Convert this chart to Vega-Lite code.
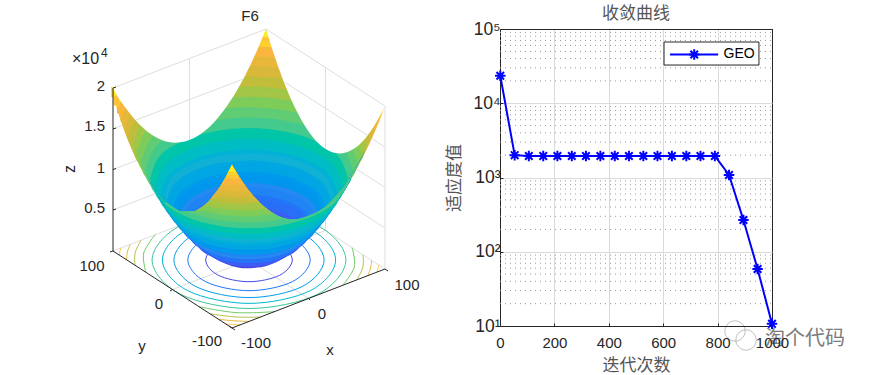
{
"$schema":"https://vega.github.io/schema/vega-lite/v6.json",
"padding":0,
"background":"white",
"config":{"view":{"stroke":null},"font":"Liberation Sans"},
"datasets":{
"series":[{"s":"GEO","it":1,"fit":23500},{"s":"GEO","it":54,"fit":2000},{"s":"GEO","it":106,"fit":1950},{"s":"GEO","it":159,"fit":1950},{"s":"GEO","it":211,"fit":1950},{"s":"GEO","it":264,"fit":1950},{"s":"GEO","it":316,"fit":1950},{"s":"GEO","it":369,"fit":1950},{"s":"GEO","it":422,"fit":1950},{"s":"GEO","it":474,"fit":1950},{"s":"GEO","it":527,"fit":1950},{"s":"GEO","it":579,"fit":1950},{"s":"GEO","it":632,"fit":1950},{"s":"GEO","it":685,"fit":1950},{"s":"GEO","it":737,"fit":1950},{"s":"GEO","it":790,"fit":1950},{"s":"GEO","it":842,"fit":1080},{"s":"GEO","it":895,"fit":268},{"s":"GEO","it":947,"fit":58.6},{"s":"GEO","it":1000,"fit":10.7}],
"grid":[
{"u":113,"v":209,"u2":266,"v2":150},{"u":113,"v":168.5,"u2":266,"v2":109.5},{"u":113,"v":128,"u2":266,"v2":69},
{"u":266,"v":150,"u2":385,"v2":227},{"u":266,"v":109.5,"u2":385,"v2":186.5},{"u":266,"v":69,"u2":385,"v2":146},
{"u":189.5,"v":220.5,"u2":189.5,"v2":57.5},{"u":325.5,"v":229.5,"u2":325.5,"v2":66.5},{"u":385,"v":268,"u2":385,"v2":105},
{"u":113,"v":250,"u2":266,"v2":191},{"u":266,"v":191,"u2":385,"v2":268},{"u":308.5,"v":297.5,"u2":189.5,"v2":220.5},{"u":172.5,"v":288.5,"u2":325.5,"v2":229.5}],
"gridTop":[
{"u":113,"v":87,"u2":266,"v2":28},{"u":266,"v":28,"u2":385,"v2":105},{"u":136,"v":119,"u2":243.5,"v2":78},{"u":283,"v":80,"u2":367,"v2":134},
{"u":189.5,"v":57.5,"u2":189.5,"v2":139},{"u":325.5,"v":66.5,"u2":325.5,"v2":148}],
"axes3d":[
{"u":113,"v":87,"u2":113,"v2":250},{"u":113,"v":250,"u2":232,"v2":327},{"u":232,"v":327,"u2":385,"v2":268},
{"u":113,"v":209,"u2":116,"v2":208},{"u":113,"v":168.5,"u2":116,"v2":167.5},{"u":113,"v":128,"u2":116,"v2":127},{"u":113,"v":87,"u2":116,"v2":86},
{"u":172.5,"v":288.5,"u2":170,"v2":290},{"u":113,"v":250,"u2":110,"v2":251},{"u":232,"v":327,"u2":229,"v2":325},{"u":232,"v":327,"u2":235,"v2":329},
{"u":308.5,"v":297.5,"u2":310,"v2":299},{"u":385,"v":268,"u2":388,"v2":270}],
"ellipses":[
{"z":2000,"i":0,"u":292.3,"v":259},{"z":2000,"i":1,"u":279.6,"v":274.3},{"z":2000,"i":2,"u":249,"v":280.7},{"z":2000,"i":3,"u":218.4,"v":274.3},{"z":2000,"i":4,"u":205.7,"v":259},{"z":2000,"i":5,"u":218.4,"v":243.7},{"z":2000,"i":6,"u":249,"v":237.3},{"z":2000,"i":7,"u":279.6,"v":243.7},
{"z":4000,"i":0,"u":310.2,"v":259},{"z":4000,"i":1,"u":292.3,"v":280.7},{"z":4000,"i":2,"u":249,"v":289.7},{"z":4000,"i":3,"u":205.7,"v":280.7},{"z":4000,"i":4,"u":187.8,"v":259},{"z":4000,"i":5,"u":205.7,"v":237.3},{"z":4000,"i":6,"u":249,"v":228.3},{"z":4000,"i":7,"u":292.3,"v":237.3},
{"z":6000,"i":0,"u":324.1,"v":259},{"z":6000,"i":1,"u":302.1,"v":285.6},{"z":6000,"i":2,"u":249,"v":296.6},{"z":6000,"i":3,"u":195.9,"v":285.6},{"z":6000,"i":4,"u":173.9,"v":259},{"z":6000,"i":5,"u":195.9,"v":232.4},{"z":6000,"i":6,"u":249,"v":221.4},{"z":6000,"i":7,"u":302.1,"v":232.4},
{"z":8000,"i":0,"u":335.6,"v":259},{"z":8000,"i":1,"u":310.2,"v":289.7},{"z":8000,"i":2,"u":249,"v":302.4},{"z":8000,"i":3,"u":187.8,"v":289.7},{"z":8000,"i":4,"u":162.4,"v":259},{"z":8000,"i":5,"u":187.8,"v":228.3},{"z":8000,"i":6,"u":249,"v":215.6},{"z":8000,"i":7,"u":310.2,"v":228.3},
{"z":10000,"i":0,"u":345.9,"v":259},{"z":10000,"i":1,"u":317.5,"v":293.3},{"z":10000,"i":2,"u":249,"v":307.5},{"z":10000,"i":3,"u":180.5,"v":293.3},{"z":10000,"i":4,"u":152.1,"v":259},{"z":10000,"i":5,"u":180.5,"v":224.7},{"z":10000,"i":6,"u":249,"v":210.5},{"z":10000,"i":7,"u":317.5,"v":224.7}],
"arcs":[
{"z":12000,"g":"f12","i":0,"u":199.1,"v":305.7},{"z":12000,"g":"f12","i":1,"u":235.9,"v":311.6},{"z":12000,"g":"f12","i":2,"u":274.3,"v":310.7},
{"z":14000,"g":"f14","i":0,"u":210.1,"v":312.8},{"z":14000,"g":"f14","i":1,"u":234.8,"v":315.9},{"z":14000,"g":"f14","i":2,"u":260.2,"v":316.1},
{"z":16000,"g":"f16","i":0,"u":218.6,"v":318.3},{"z":16000,"g":"f16","i":1,"u":233.8,"v":319.8},{"z":16000,"g":"f16","i":2,"u":249.2,"v":320.4},
{"z":18000,"g":"f18","i":0,"u":225.7,"v":322.9},{"z":18000,"g":"f18","i":1,"u":232.9,"v":323.5},{"z":18000,"g":"f18","i":2,"u":240.1,"v":323.9},
{"z":12000,"g":"l12","i":0,"u":145.9,"v":271.3},{"z":12000,"g":"l12","i":1,"u":143.7,"v":252},{"z":12000,"g":"l12","i":2,"u":155.3,"v":233.7},
{"z":14000,"g":"l14","i":0,"u":134.9,"v":264.2},{"z":14000,"g":"l14","i":1,"u":135.2,"v":251.5},{"z":14000,"g":"l14","i":2,"u":141.2,"v":239.1},
{"z":16000,"g":"l16","i":0,"u":126.4,"v":258.7},{"z":16000,"g":"l16","i":1,"u":127.4,"v":251},{"z":16000,"g":"l16","i":2,"u":130.2,"v":243.4},
{"z":18000,"g":"l18","i":0,"u":119.3,"v":254.1},{"z":18000,"g":"l18","i":1,"u":119.9,"v":250.5},{"z":18000,"g":"l18","i":2,"u":121.1,"v":246.9},
{"z":12000,"g":"r12","i":0,"u":352.1,"v":246.7},{"z":12000,"g":"r12","i":1,"u":354.3,"v":266},{"z":12000,"g":"r12","i":2,"u":342.7,"v":284.3},
{"z":14000,"g":"r14","i":0,"u":363.1,"v":253.8},{"z":14000,"g":"r14","i":1,"u":362.8,"v":266.5},{"z":14000,"g":"r14","i":2,"u":356.8,"v":278.9},
{"z":16000,"g":"r16","i":0,"u":371.6,"v":259.3},{"z":16000,"g":"r16","i":1,"u":370.6,"v":267},{"z":16000,"g":"r16","i":2,"u":367.8,"v":274.6},
{"z":18000,"g":"r18","i":0,"u":378.7,"v":263.9},{"z":18000,"g":"r18","i":1,"u":378.1,"v":267.5},{"z":18000,"g":"r18","i":2,"u":376.9,"v":271.1}],
"inner":[
{"z":19500,"u":113,"v":96,"v2":86},{"z":19500,"u":121.6,"v":70.8,"v2":114.5},{"z":19500,"u":153.1,"v":47,"v2":145},{"z":19500,"u":201,"v":31.7,"v2":160.3},{"z":19500,"u":249,"v":27.4,"v2":164.6},{"z":19500,"u":297,"v":31.7,"v2":160.3},{"z":19500,"u":344.9,"v":47,"v2":145},{"z":19500,"u":376.4,"v":70.8,"v2":121.2},{"z":19500,"u":385,"v":96,"v2":96},
{"z":18500,"u":115.5,"v":104.2,"v2":95.3},{"z":18500,"u":124.8,"v":79.6,"v2":123.7},{"z":18500,"u":155.5,"v":56.5,"v2":151.9},{"z":18500,"u":202.3,"v":41.6,"v2":166.8},{"z":18500,"u":249,"v":37.4,"v2":171},{"z":18500,"u":295.7,"v":41.6,"v2":166.8},{"z":18500,"u":342.5,"v":56.5,"v2":151.9},{"z":18500,"u":373.2,"v":79.6,"v2":128.8},{"z":18500,"u":382.5,"v":104.2,"v2":104.2},
{"z":17500,"u":119,"v":112.3,"v2":106.5},{"z":17500,"u":128.1,"v":88.3,"v2":132.9},{"z":17500,"u":158,"v":65.8,"v2":158.8},{"z":17500,"u":203.5,"v":51.3,"v2":173.3},{"z":17500,"u":249,"v":47.2,"v2":177.4},{"z":17500,"u":294.5,"v":51.3,"v2":173.3},{"z":17500,"u":340,"v":65.8,"v2":158.8},{"z":17500,"u":369.9,"v":88.3,"v2":136.3},{"z":17500,"u":379,"v":112.3,"v2":112.3},
{"z":16500,"u":122.6,"v":120.5,"v2":117.3},{"z":16500,"u":131.4,"v":97.2,"v2":141.5},{"z":16500,"u":160.5,"v":75.4,"v2":165.6},{"z":16500,"u":204.8,"v":61.3,"v2":179.7},{"z":16500,"u":249,"v":57.3,"v2":183.7},{"z":16500,"u":293.2,"v":61.3,"v2":179.7},{"z":16500,"u":337.5,"v":75.4,"v2":165.6},{"z":16500,"u":366.6,"v":97.2,"v2":143.8},{"z":16500,"u":375.4,"v":120.5,"v2":120.5},
{"z":15500,"u":126.4,"v":128.6,"v2":128.2},{"z":15500,"u":135,"v":106,"v2":150.4},{"z":15500,"u":163.2,"v":84.8,"v2":172.4},{"z":15500,"u":206.1,"v":71.1,"v2":186.1},{"z":15500,"u":249,"v":67.2,"v2":190},{"z":15500,"u":291.9,"v":71.1,"v2":186.1},{"z":15500,"u":334.8,"v":84.8,"v2":172.4},{"z":15500,"u":363,"v":106,"v2":151.2},{"z":15500,"u":371.6,"v":128.6,"v2":128.6},
{"z":14500,"u":130.3,"v":136.8,"v2":136.8},{"z":14500,"u":138.6,"v":114.9,"v2":158.7},{"z":14500,"u":165.9,"v":94.4,"v2":179.2},{"z":14500,"u":207.5,"v":81.1,"v2":192.5},{"z":14500,"u":249,"v":77.4,"v2":196.2},{"z":14500,"u":290.5,"v":81.1,"v2":192.5},{"z":14500,"u":332.1,"v":94.4,"v2":179.2},{"z":14500,"u":359.4,"v":114.9,"v2":158.7},{"z":14500,"u":367.7,"v":136.8,"v2":136.8},
{"z":13500,"u":134.4,"v":144.9,"v2":144.9},{"z":13500,"u":142.4,"v":123.8,"v2":166},{"z":13500,"u":168.8,"v":103.9,"v2":185.9},{"z":13500,"u":208.9,"v":91.1,"v2":198.7},{"z":13500,"u":249,"v":87.5,"v2":202.3},{"z":13500,"u":289.1,"v":91.1,"v2":198.7},{"z":13500,"u":329.2,"v":103.9,"v2":185.9},{"z":13500,"u":355.6,"v":123.8,"v2":166},{"z":13500,"u":363.6,"v":144.9,"v2":144.9},
{"z":12500,"u":138.5,"v":153.1,"v2":153.1},{"z":12500,"u":146.2,"v":132.7,"v2":173.5},{"z":12500,"u":171.6,"v":113.6,"v2":192.6},{"z":12500,"u":210.3,"v":101.3,"v2":204.9},{"z":12500,"u":249,"v":97.8,"v2":208.4},{"z":12500,"u":287.7,"v":101.3,"v2":204.9},{"z":12500,"u":326.4,"v":113.6,"v2":192.6},{"z":12500,"u":351.8,"v":132.7,"v2":173.5},{"z":12500,"u":359.5,"v":153.1,"v2":153.1},
{"z":11500,"u":142.9,"v":161.2,"v2":161.2},{"z":11500,"u":150.3,"v":141.7,"v2":180.7},{"z":11500,"u":174.7,"v":123.3,"v2":199.1},{"z":11500,"u":211.9,"v":111.4,"v2":211},{"z":11500,"u":249,"v":108.1,"v2":214.3},{"z":11500,"u":286.1,"v":111.4,"v2":211},{"z":11500,"u":323.3,"v":123.3,"v2":199.1},{"z":11500,"u":347.7,"v":141.7,"v2":180.7},{"z":11500,"u":355.1,"v":161.2,"v2":161.2},
{"z":10500,"u":147.4,"v":169.4,"v2":169.4},{"z":10500,"u":154.5,"v":150.7,"v2":188.1},{"z":10500,"u":177.9,"v":133.1,"v2":205.7},{"z":10500,"u":213.4,"v":121.7,"v2":217.1},{"z":10500,"u":249,"v":118.5,"v2":220.3},{"z":10500,"u":284.6,"v":121.7,"v2":217.1},{"z":10500,"u":320.1,"v":133.1,"v2":205.7},{"z":10500,"u":343.5,"v":150.7,"v2":188.1},{"z":10500,"u":350.6,"v":169.4,"v2":169.4},
{"z":9500,"u":152.1,"v":177.5,"v2":177.5},{"z":9500,"u":158.9,"v":159.7,"v2":195.3},{"z":9500,"u":181.2,"v":142.9,"v2":212.1},{"z":9500,"u":215.1,"v":132.1,"v2":222.9},{"z":9500,"u":249,"v":129,"v2":226},{"z":9500,"u":282.9,"v":132.1,"v2":222.9},{"z":9500,"u":316.8,"v":142.9,"v2":212.1},{"z":9500,"u":339.1,"v":159.7,"v2":195.3},{"z":9500,"u":345.9,"v":177.5,"v2":177.5},
{"z":8500,"u":157,"v":185.7,"v2":185.7},{"z":8500,"u":163.4,"v":168.8,"v2":202.6},{"z":8500,"u":184.6,"v":152.9,"v2":218.5},{"z":8500,"u":216.8,"v":142.6,"v2":228.8},{"z":8500,"u":249,"v":139.7,"v2":231.7},{"z":8500,"u":281.2,"v":142.6,"v2":228.8},{"z":8500,"u":313.4,"v":152.9,"v2":218.5},{"z":8500,"u":334.6,"v":168.8,"v2":202.6},{"z":8500,"u":341,"v":185.7,"v2":185.7},
{"z":7500,"u":162.4,"v":193.8,"v2":193.8},{"z":7500,"u":168.5,"v":177.8,"v2":209.8},{"z":7500,"u":188.4,"v":162.8,"v2":224.8},{"z":7500,"u":218.7,"v":153.1,"v2":234.5},{"z":7500,"u":249,"v":150.4,"v2":237.2},{"z":7500,"u":279.3,"v":153.1,"v2":234.5},{"z":7500,"u":309.6,"v":162.8,"v2":224.8},{"z":7500,"u":329.5,"v":177.8,"v2":209.8},{"z":7500,"u":335.6,"v":193.8,"v2":193.8},
{"z":6500,"u":167.9,"v":202,"v2":202},{"z":6500,"u":173.6,"v":187.1,"v2":216.9},{"z":6500,"u":192.2,"v":173,"v2":231},{"z":6500,"u":220.6,"v":164,"v2":240},{"z":6500,"u":249,"v":161.4,"v2":242.6},{"z":6500,"u":277.4,"v":164,"v2":240},{"z":6500,"u":305.8,"v":173,"v2":231},{"z":6500,"u":324.4,"v":187.1,"v2":216.9},{"z":6500,"u":330.1,"v":202,"v2":202},
{"z":5500,"u":173.9,"v":210.1,"v2":210.1},{"z":5500,"u":179.2,"v":196.3,"v2":223.9},{"z":5500,"u":196.4,"v":183.3,"v2":236.9},{"z":5500,"u":222.7,"v":174.9,"v2":245.3},{"z":5500,"u":249,"v":172.5,"v2":247.7},{"z":5500,"u":275.3,"v":174.9,"v2":245.3},{"z":5500,"u":301.6,"v":183.3,"v2":236.9},{"z":5500,"u":318.8,"v":196.3,"v2":223.9},{"z":5500,"u":324.1,"v":210.1,"v2":210.1},
{"z":4500,"u":180.5,"v":218.3,"v2":218.3},{"z":4500,"u":185.3,"v":205.7,"v2":230.9},{"z":4500,"u":201,"v":193.8,"v2":242.8},{"z":4500,"u":225,"v":186.2,"v2":250.4},{"z":4500,"u":249,"v":184,"v2":252.6},{"z":4500,"u":273,"v":186.2,"v2":250.4},{"z":4500,"u":297,"v":193.8,"v2":242.8},{"z":4500,"u":312.7,"v":205.7,"v2":230.9},{"z":4500,"u":317.5,"v":218.3,"v2":218.3},
{"z":3500,"u":187.8,"v":226.4,"v2":226.4},{"z":3500,"u":192.1,"v":215.1,"v2":237.7},{"z":3500,"u":206.2,"v":204.5,"v2":248.3},{"z":3500,"u":227.6,"v":197.6,"v2":255.2},{"z":3500,"u":249,"v":195.7,"v2":257.1},{"z":3500,"u":270.4,"v":197.6,"v2":255.2},{"z":3500,"u":291.8,"v":204.5,"v2":248.3},{"z":3500,"u":305.9,"v":215.1,"v2":237.7},{"z":3500,"u":310.2,"v":226.4,"v2":226.4},
{"z":2500,"u":195.9,"v":234.6,"v2":234.6},{"z":2500,"u":199.6,"v":224.8,"v2":244.4},{"z":2500,"u":211.8,"v":215.6,"v2":253.6},{"z":2500,"u":230.4,"v":209.7,"v2":259.5},{"z":2500,"u":249,"v":208,"v2":261.2},{"z":2500,"u":267.6,"v":209.7,"v2":259.5},{"z":2500,"u":286.2,"v":215.6,"v2":253.6},{"z":2500,"u":298.4,"v":224.8,"v2":244.4},{"z":2500,"u":302.1,"v":234.6,"v2":234.6}],
"outer":[
{"z":1500,"u":150,"v":180.8,"v2":181.1},{"z":1500,"u":165,"v":200.8,"v2":204.9},{"z":1500,"u":180,"v":210.6,"v2":224.9},{"z":1500,"u":195,"v":210,"v2":240.9},{"z":1500,"u":210,"v":199,"v2":253},{"z":1500,"u":221,"v":184.3,"v2":259.4},{"z":1500,"u":232,"v":164,"v2":263.7},{"z":1500,"u":245,"v":184.4,"v2":266.1},{"z":1500,"u":260,"v":201.9,"v2":265.1},{"z":1500,"u":275,"v":213.3,"v2":260.3},{"z":1500,"u":290,"v":218.3,"v2":251.6},{"z":1500,"u":305,"v":217.2,"v2":239},{"z":1500,"u":320,"v":209.8,"v2":222.4},{"z":1500,"u":335,"v":196,"v2":201.9},{"z":1500,"u":350,"v":176.1,"v2":177.7},{"z":1500,"u":365,"v":149.7,"v2":149.7},
{"z":2500,"u":150,"v":180.8,"v2":181.1},{"z":2500,"u":165,"v":200.8,"v2":204.9},{"z":2500,"u":180,"v":210.6,"v2":224.9},{"z":2500,"u":195,"v":210,"v2":240.9},{"z":2500,"u":210,"v":199,"v2":253},{"z":2500,"u":221,"v":184.3,"v2":259.3},{"z":2500,"u":232,"v":164,"v2":262.7},{"z":2500,"u":245,"v":184.4,"v2":264.3},{"z":2500,"u":260,"v":201.9,"v2":263.7},{"z":2500,"u":275,"v":213.3,"v2":260.1},{"z":2500,"u":290,"v":218.3,"v2":251.6},{"z":2500,"u":305,"v":217.2,"v2":239},{"z":2500,"u":320,"v":209.8,"v2":222.4},{"z":2500,"u":335,"v":196,"v2":201.9},{"z":2500,"u":350,"v":176.1,"v2":177.7},{"z":2500,"u":365,"v":149.7,"v2":149.7},
{"z":3500,"u":150,"v":180.8,"v2":181.1},{"z":3500,"u":165,"v":200.8,"v2":204.9},{"z":3500,"u":180,"v":210.6,"v2":224.9},{"z":3500,"u":195,"v":210,"v2":240.9},{"z":3500,"u":210,"v":199,"v2":252.6},{"z":3500,"u":221,"v":184.3,"v2":257.1},{"z":3500,"u":232,"v":164,"v2":259.7},{"z":3500,"u":245,"v":184.4,"v2":261.1},{"z":3500,"u":260,"v":201.9,"v2":260.5},{"z":3500,"u":275,"v":213.3,"v2":257.7},{"z":3500,"u":290,"v":218.3,"v2":251.4},{"z":3500,"u":305,"v":217.2,"v2":239},{"z":3500,"u":320,"v":209.8,"v2":222.4},{"z":3500,"u":335,"v":196,"v2":201.9},{"z":3500,"u":350,"v":176.1,"v2":177.7},{"z":3500,"u":365,"v":149.7,"v2":149.7},
{"z":4500,"u":150,"v":180.8,"v2":181.1},{"z":4500,"u":165,"v":200.8,"v2":204.9},{"z":4500,"u":180,"v":210.6,"v2":224.9},{"z":4500,"u":195,"v":210,"v2":240.9},{"z":4500,"u":210,"v":199,"v2":250.1},{"z":4500,"u":221,"v":184.3,"v2":253.7},{"z":4500,"u":232,"v":164,"v2":255.9},{"z":4500,"u":245,"v":184.4,"v2":257},{"z":4500,"u":260,"v":201.9,"v2":256.6},{"z":4500,"u":275,"v":213.3,"v2":254.2},{"z":4500,"u":290,"v":218.3,"v2":249.2},{"z":4500,"u":305,"v":217.2,"v2":239},{"z":4500,"u":320,"v":209.8,"v2":222.4},{"z":4500,"u":335,"v":196,"v2":201.9},{"z":4500,"u":350,"v":176.1,"v2":177.7},{"z":4500,"u":365,"v":149.7,"v2":149.7},
{"z":5500,"u":150,"v":180.8,"v2":181.1},{"z":5500,"u":165,"v":200.8,"v2":204.9},{"z":5500,"u":180,"v":210.6,"v2":224.9},{"z":5500,"u":195,"v":210,"v2":239.4},{"z":5500,"u":210,"v":199,"v2":246.5},{"z":5500,"u":221,"v":184.3,"v2":249.6},{"z":5500,"u":232,"v":164,"v2":251.5},{"z":5500,"u":245,"v":184.4,"v2":252.5},{"z":5500,"u":260,"v":201.9,"v2":252.1},{"z":5500,"u":275,"v":213.3,"v2":250},{"z":5500,"u":290,"v":218.3,"v2":245.8},{"z":5500,"u":305,"v":217.2,"v2":238},{"z":5500,"u":320,"v":209.8,"v2":222.4},{"z":5500,"u":335,"v":196,"v2":201.9},{"z":5500,"u":350,"v":176.1,"v2":177.7},{"z":5500,"u":365,"v":149.7,"v2":149.7},
{"z":6500,"u":150,"v":180.8,"v2":181.1},{"z":6500,"u":165,"v":200.8,"v2":204.9},{"z":6500,"u":180,"v":210.6,"v2":224.9},{"z":6500,"u":195,"v":210,"v2":236.2},{"z":6500,"u":210,"v":199,"v2":242.2},{"z":6500,"u":221,"v":184.3,"v2":245},{"z":6500,"u":232,"v":164,"v2":246.7},{"z":6500,"u":245,"v":184.4,"v2":247.6},{"z":6500,"u":260,"v":201.9,"v2":247.3},{"z":6500,"u":275,"v":213.3,"v2":245.4},{"z":6500,"u":290,"v":218.3,"v2":241.6},{"z":6500,"u":305,"v":217.2,"v2":235.1},{"z":6500,"u":320,"v":209.8,"v2":222.4},{"z":6500,"u":335,"v":196,"v2":201.9},{"z":6500,"u":350,"v":176.1,"v2":177.7},{"z":6500,"u":365,"v":149.7,"v2":149.7},
{"z":7500,"u":150,"v":180.8,"v2":181.1},{"z":7500,"u":165,"v":200.8,"v2":204.9},{"z":7500,"u":180,"v":210.6,"v2":223.3},{"z":7500,"u":195,"v":210,"v2":232.2},{"z":7500,"u":210,"v":199,"v2":237.6},{"z":7500,"u":221,"v":184.3,"v2":240},{"z":7500,"u":232,"v":164,"v2":241.6},{"z":7500,"u":245,"v":184.4,"v2":242.5},{"z":7500,"u":260,"v":201.9,"v2":242.2},{"z":7500,"u":275,"v":213.3,"v2":240.4},{"z":7500,"u":290,"v":218.3,"v2":237},{"z":7500,"u":305,"v":217.2,"v2":231.3},{"z":7500,"u":320,"v":209.8,"v2":221.5},{"z":7500,"u":335,"v":196,"v2":201.9},{"z":7500,"u":350,"v":176.1,"v2":177.7},{"z":7500,"u":365,"v":149.7,"v2":149.7},
{"z":8500,"u":150,"v":180.8,"v2":181.1},{"z":8500,"u":165,"v":200.8,"v2":204.9},{"z":8500,"u":180,"v":210.6,"v2":220},{"z":8500,"u":195,"v":210,"v2":227.7},{"z":8500,"u":210,"v":199,"v2":232.6},{"z":8500,"u":221,"v":184.3,"v2":234.8},{"z":8500,"u":232,"v":164,"v2":236.3},{"z":8500,"u":245,"v":184.4,"v2":237.1},{"z":8500,"u":260,"v":201.9,"v2":236.8},{"z":8500,"u":275,"v":213.3,"v2":235.2},{"z":8500,"u":290,"v":218.3,"v2":232},{"z":8500,"u":305,"v":217.2,"v2":226.9},{"z":8500,"u":320,"v":209.8,"v2":218.7},{"z":8500,"u":335,"v":196,"v2":201.9},{"z":8500,"u":350,"v":176.1,"v2":177.7},{"z":8500,"u":365,"v":149.7,"v2":149.7},
{"z":9500,"u":150,"v":180.8,"v2":181.1},{"z":9500,"u":165,"v":200.8,"v2":204.3},{"z":9500,"u":180,"v":210.6,"v2":216.1},{"z":9500,"u":195,"v":210,"v2":222.9},{"z":9500,"u":210,"v":199,"v2":227.3},{"z":9500,"u":221,"v":184.3,"v2":229.5},{"z":9500,"u":232,"v":164,"v2":230.9},{"z":9500,"u":245,"v":184.4,"v2":231.7},{"z":9500,"u":260,"v":201.9,"v2":231.3},{"z":9500,"u":275,"v":213.3,"v2":229.8},{"z":9500,"u":290,"v":218.3,"v2":226.9},{"z":9500,"u":305,"v":217.2,"v2":222.2},{"z":9500,"u":320,"v":209.8,"v2":214.9},{"z":9500,"u":335,"v":196,"v2":201.9},{"z":9500,"u":350,"v":176.1,"v2":177.7},{"z":9500,"u":365,"v":149.7,"v2":149.7},
{"z":10500,"u":150,"v":180.8,"v2":181.1},{"z":10500,"u":165,"v":200.8,"v2":201.7},{"z":10500,"u":180,"v":210.6,"v2":211.5},{"z":10500,"u":195,"v":210,"v2":217.8},{"z":10500,"u":210,"v":199,"v2":221.9},{"z":10500,"u":221,"v":184.3,"v2":223.9},{"z":10500,"u":232,"v":164,"v2":225.3},{"z":10500,"u":245,"v":184.4,"v2":226},{"z":10500,"u":260,"v":201.9,"v2":225.7},{"z":10500,"u":275,"v":213.3,"v2":224.2},{"z":10500,"u":290,"v":218.3,"v2":221.4},{"z":10500,"u":305,"v":217.2,"v2":217.2},{"z":10500,"u":320,"v":209.8,"v2":210.5},{"z":10500,"u":335,"v":196,"v2":199.8},{"z":10500,"u":350,"v":176.1,"v2":177.7},{"z":10500,"u":365,"v":149.7,"v2":149.7},
{"z":11500,"u":150,"v":180.8,"v2":181.1},{"z":11500,"u":165,"v":200.8,"v2":200.8},{"z":11500,"u":180,"v":210.6,"v2":210.6},{"z":11500,"u":195,"v":210,"v2":212.4},{"z":11500,"u":210,"v":199,"v2":216.3},{"z":11500,"u":221,"v":184.3,"v2":218.3},{"z":11500,"u":232,"v":164,"v2":219.5},{"z":11500,"u":245,"v":184.4,"v2":220.2},{"z":11500,"u":260,"v":201.9,"v2":219.9},{"z":11500,"u":275,"v":213.3,"v2":218.5},{"z":11500,"u":290,"v":218.3,"v2":218.3},{"z":11500,"u":305,"v":217.2,"v2":217.2},{"z":11500,"u":320,"v":209.8,"v2":209.8},{"z":11500,"u":335,"v":196,"v2":196.4},{"z":11500,"u":350,"v":176.1,"v2":177.7},{"z":11500,"u":365,"v":149.7,"v2":149.7},
{"z":12500,"u":195,"v":210,"v2":210},{"z":12500,"u":210,"v":199,"v2":210.6},{"z":12500,"u":221,"v":184.3,"v2":212.5},{"z":12500,"u":232,"v":164,"v2":213.6},{"z":12500,"u":245,"v":184.4,"v2":214.3},{"z":12500,"u":260,"v":201.9,"v2":214.1},{"z":12500,"u":275,"v":213.3,"v2":213.3},
{"z":13500,"u":195,"v":210,"v2":210},{"z":13500,"u":210,"v":199,"v2":204.8},{"z":13500,"u":221,"v":184.3,"v2":206.6},{"z":13500,"u":232,"v":164,"v2":207.7},{"z":13500,"u":245,"v":184.4,"v2":208.3},{"z":13500,"u":260,"v":201.9,"v2":208.1},{"z":13500,"u":275,"v":213.3,"v2":213.3},
{"z":14500,"u":210,"v":199,"v2":199},{"z":14500,"u":221,"v":184.3,"v2":200.5},{"z":14500,"u":232,"v":164,"v2":201.6},{"z":14500,"u":245,"v":184.4,"v2":202.2},{"z":14500,"u":260,"v":201.9,"v2":202},
{"z":15500,"u":210,"v":199,"v2":199},{"z":15500,"u":221,"v":184.3,"v2":194.5},{"z":15500,"u":232,"v":164,"v2":195.5},{"z":15500,"u":245,"v":184.4,"v2":196.1},{"z":15500,"u":260,"v":201.9,"v2":201.9},
{"z":16500,"u":210,"v":199,"v2":199},{"z":16500,"u":221,"v":184.3,"v2":188.3},{"z":16500,"u":232,"v":164,"v2":189.4},{"z":16500,"u":245,"v":184.4,"v2":189.9},{"z":16500,"u":260,"v":201.9,"v2":201.9},
{"z":17500,"u":221,"v":184.3,"v2":184.3},{"z":17500,"u":226,"v":175.7,"v2":182.6},{"z":17500,"u":232,"v":164,"v2":183.1},{"z":17500,"u":238,"v":173.9,"v2":183.4},{"z":17500,"u":245,"v":184.4,"v2":184.4},
{"z":18500,"u":226,"v":175.7,"v2":176.3},{"z":18500,"u":232,"v":164,"v2":176.8},{"z":18500,"u":238,"v":173.9,"v2":177.1},
{"z":19500,"u":228,"v":171.4,"v2":171.4},{"z":19500,"u":232,"v":164,"v2":170.5},{"z":19500,"u":235.5,"v":170.8,"v2":170.8}],
"rim":[
{"u":110,"v":0,"v2":80},{"u":113,"v":0,"v2":87},{"u":125,"v":0,"v2":106},{"u":140,"v":0,"v2":124},{"u":155,"v":0,"v2":135.7},{"u":175,"v":0,"v2":141.7},{"u":195,"v":0,"v2":136.5},{"u":215,"v":0,"v2":120.2},{"u":230,"v":0,"v2":100.6},{"u":245,"v":0,"v2":74.8},{"u":258,"v":0,"v2":47.3},{"u":266,"v":0,"v2":28},{"u":275,"v":0,"v2":56.6},{"u":290,"v":0,"v2":96},{"u":305,"v":0,"v2":125},{"u":320,"v":0,"v2":143.8},{"u":340,"v":0,"v2":152.5},{"u":355,"v":0,"v2":147.1},{"u":365,"v":0,"v2":137.7},{"u":375,"v":0,"v2":123.6},{"u":385,"v":0,"v2":105},{"u":390,"v":0,"v2":95}],
"labR":[{"u":105,"v":85,"t":"2"},{"u":105,"v":125,"t":"1.5"},{"u":105,"v":167,"t":"1"},{"u":105,"v":207,"t":"0.5"}],
"labC":[{"u":92,"v":265,"t":"100"},{"u":159,"v":303,"t":"0"},{"u":207,"v":340,"t":"-100"},{"u":142,"v":345,"t":"y"},{"u":256,"v":342,"t":"-100"},{"u":322,"v":313,"t":"0"},{"u":407,"v":284,"t":"100"},{"u":330,"v":349,"t":"x"},{"u":250,"v":15,"t":"F6"}]
},
"hconcat":[
{"width":430,"height":375,
"encoding":{"x":{"field":"u","type":"quantitative","scale":{"domain":[0,430]},"axis":null},"y":{"field":"v","type":"quantitative","scale":{"domain":[0,375],"reverse":true},"axis":null}},
"layer":[
{"data":{"name":"grid"},"mark":{"type":"rule","color":"#dedede","strokeWidth":1},"encoding":{"x2":{"field":"u2"},"y2":{"field":"v2"}}},
{"data":{"name":"ellipses"},"mark":{"type":"line","interpolate":"cardinal-closed","strokeWidth":1},"encoding":{"order":{"field":"i"},"detail":{"field":"z"},"color":{"field":"z","type":"quantitative","legend":null,"scale":{"domain":[0,2500,5000,7500,10000,12500,15000,17500,20000],"range":["#3e26a8","#4852f4","#2b8ef0","#11b1d6","#37c897","#80cc59","#d2b83a","#fcb63f","#f9fb15"]}}}},
{"data":{"name":"arcs"},"mark":{"type":"line","interpolate":"cardinal","strokeWidth":1},"encoding":{"order":{"field":"i"},"detail":{"field":"g"},"color":{"field":"z","type":"quantitative","legend":null,"scale":{"domain":[0,2500,5000,7500,10000,12500,15000,17500,20000],"range":["#3e26a8","#4852f4","#2b8ef0","#11b1d6","#37c897","#80cc59","#d2b83a","#fcb63f","#f9fb15"]}}}},
{"data":{"name":"inner"},"mark":{"type":"area","interpolate":"monotone","orient":"vertical","strokeWidth":4},"encoding":{"y2":{"field":"v2"},"detail":{"field":"z"},"fill":{"field":"z","type":"quantitative","legend":null,"scale":{"domain":[0,2500,5000,7500,10000,12500,15000,17500,20000],"range":["#3e26a8","#4852f4","#2b8ef0","#11b1d6","#37c897","#80cc59","#d2b83a","#fcb63f","#f9fb15"]}},"stroke":{"field":"z","type":"quantitative","legend":null,"scale":{"domain":[-500,2000,4500,7000,9500,12000,14500,17000,19500],"range":["#3e26a8","#4852f4","#2b8ef0","#11b1d6","#37c897","#80cc59","#d2b83a","#fcb63f","#f9fb15"]}}}},
{"data":{"name":"outer"},"transform":[{"filter":"datum.u<=232"}],"mark":{"type":"area","interpolate":"monotone","orient":"vertical"},"encoding":{"y2":{"field":"v2"},"detail":{"field":"z"},"color":{"field":"z","type":"quantitative","legend":null,"scale":{"domain":[0,2500,5000,7500,10000,12500,15000,17500,20000],"range":["#3e26a8","#4852f4","#2b8ef0","#11b1d6","#37c897","#80cc59","#d2b83a","#fcb63f","#f9fb15"]}}}},
{"data":{"name":"outer"},"transform":[{"filter":"datum.u>=232"}],"mark":{"type":"area","interpolate":"monotone","orient":"vertical"},"encoding":{"y2":{"field":"v2"},"detail":{"field":"z"},"color":{"field":"z","type":"quantitative","legend":null,"scale":{"domain":[0,2500,5000,7500,10000,12500,15000,17500,20000],"range":["#3e26a8","#4852f4","#2b8ef0","#11b1d6","#37c897","#80cc59","#d2b83a","#fcb63f","#f9fb15"]}}}},
{"data":{"name":"outer"},"transform":[{"filter":"datum.v2>datum.v+0.5&&(datum.z<11000||datum.u<320)"}],"mark":{"type":"line","interpolate":"monotone","strokeWidth":2.5},"encoding":{"y":{"field":"v2","type":"quantitative"},"detail":{"field":"z"},"stroke":{"field":"z","type":"quantitative","legend":null,"scale":{"domain":[500,3000,5500,8000,10500,13000,15500,18000,20500],"range":["#3e26a8","#4852f4","#2b8ef0","#11b1d6","#37c897","#80cc59","#d2b83a","#fcb63f","#f9fb15"]}}}},
{"data":{"name":"rim"},"transform":[{"filter":"datum.u<=266"}],"mark":{"type":"area","interpolate":"monotone","orient":"vertical","color":"white"},"encoding":{"y2":{"field":"v2"}}},
{"data":{"name":"rim"},"transform":[{"filter":"datum.u>=266"}],"mark":{"type":"area","interpolate":"monotone","orient":"vertical","color":"white"},"encoding":{"y2":{"field":"v2"}}},
{"data":{"name":"gridTop"},"mark":{"type":"rule","color":"#dedede","strokeWidth":1},"encoding":{"x2":{"field":"u2"},"y2":{"field":"v2"}}},
{"data":{"name":"axes3d"},"mark":{"type":"rule","color":"#262626","strokeWidth":1},"encoding":{"x2":{"field":"u2"},"y2":{"field":"v2"}}},
{"data":{"name":"labR"},"mark":{"type":"text","align":"right","baseline":"middle","fontSize":15,"color":"#262626"},"encoding":{"text":{"field":"t"}}},
{"data":{"name":"labC"},"mark":{"type":"text","align":"center","baseline":"middle","fontSize":15,"color":"#262626"},"encoding":{"text":{"field":"t"}}},
{"data":{"values":[{"u":70,"v":168,"t":"z"}]},"mark":{"type":"text","align":"center","baseline":"middle","fontSize":16,"angle":270,"color":"#262626"},"encoding":{"text":{"field":"t"}}},
{"data":{"values":[{"u":72,"v":58,"t":"×10"}]},"mark":{"type":"text","align":"left","baseline":"middle","fontSize":16,"color":"#262626"},"encoding":{"text":{"field":"t"}}},
{"data":{"values":[{"u":101,"v":52,"t":"4"}]},"mark":{"type":"text","align":"left","baseline":"middle","fontSize":12,"color":"#262626"},"encoding":{"text":{"field":"t"}}},
{"data":{"values":[{"u":805,"v":338,"t":"淘个代码"}]},"mark":{"type":"text","align":"center","baseline":"middle","fontSize":20,"font":"Noto Sans CJK SC","color":"#666666","opacity":0.85},"encoding":{"text":{"field":"t"}}},
{"data":{"values":[{"u":746,"v":339},{"u":735,"v":330}]},"mark":{"type":"point","color":"#aaaaaa","size":420,"filled":false,"strokeWidth":1}}
]},
{"vconcat":[
{"data":{"values":[{"a":1}]},"mark":{"type":"rule","opacity":0},"encoding":{},"width":272,"height":28},
{"width":272,"height":297,
"view":{"stroke":"#262626","strokeWidth":1},
"title":{"text":"收敛曲线","font":"Noto Sans CJK SC","fontSize":17,"fontWeight":"normal","color":"#555555","offset":-3},
"encoding":{"x":{"field":"it","type":"quantitative","scale":{"domain":[0,1000],"nice":false},
"axis":{"values":[0,200,400,600,800,1000],"format":"d","labelFlush":false,"title":"迭代次数","titleFont":"Noto Sans CJK SC","titleFontSize":17,"titleFontWeight":"normal","titleColor":"#555555","titleY":31,"labelFont":"Liberation Sans","labelFontSize":15,"labelColor":"#262626","labelPadding":12,"tickSize":-3,"tickColor":"#262626","gridColor":{"condition":{"test":"datum.value==1000","value":"#262626"},"value":"#dadada"},"domainColor":"#262626","labelOverlap":false}},
"y":{"field":"fit","type":"quantitative","scale":{"type":"log","domain":[10,100000],"nice":false},
"axis":{"values":[10,100,1000,10000,100000],"title":"适应度值","titleFont":"Noto Sans CJK SC","titleFontSize":17,"titleFontWeight":"normal","titleColor":"#555555","titleX":-37,"labelFont":"Liberation Sans","labelFontSize":17.5,"labelColor":"#262626","labelPadding":3,"tickSize":-3,"tickColor":"#262626","gridColor":{"condition":{"test":"datum.value==100000","value":"#262626"},"value":"#dadada"},"domainColor":"#262626","labelFlush":false,"labelExpr":"datum.value==10?'10¹':datum.value==100?'10²':datum.value==1000?'10³':datum.value==10000?'10⁴':'10⁵'"}}},
"layer":[
{"data":{"values":[{"m":20},{"m":30},{"m":40},{"m":50},{"m":60},{"m":70},{"m":80},{"m":90},{"m":200},{"m":300},{"m":400},{"m":500},{"m":600},{"m":700},{"m":800},{"m":900},{"m":2000},{"m":3000},{"m":4000},{"m":5000},{"m":6000},{"m":7000},{"m":8000},{"m":9000},{"m":20000},{"m":30000},{"m":40000},{"m":50000},{"m":60000},{"m":70000},{"m":80000},{"m":90000}]},
"mark":{"type":"rule","color":"#9a9a9a","strokeWidth":1,"strokeDash":[1,4]},"encoding":{"x":{"value":0},"x2":{"value":272},"y":{"field":"m","type":"quantitative"}}},
{"data":{"name":"series"},"mark":{"type":"line","strokeWidth":2,"color":"#0000ff"}},
{"data":{"name":"series"},"mark":{"type":"point","shape":"M-1,0L1,0M0,-1L0,1M-.72,-.72L.72,.72M-.72,.72L.72,-.72","size":110,"filled":false,"strokeWidth":2,"color":"#0000ff","opacity":1}},
{"data":{"values":[{"it":603,"it2":952,"fit":66800,"fit2":32700}]},"mark":{"type":"rect","fill":"white","stroke":"#262626","strokeWidth":1},"encoding":{"x2":{"field":"it2"},"y2":{"field":"fit2"}}},
{"data":{"values":[{"it":625,"it2":802,"fit":45350}]},"mark":{"type":"rule","color":"#0000ff","strokeWidth":2},"encoding":{"x2":{"field":"it2"}}},
{"data":{"values":[{"it":714,"fit":45350}]},"mark":{"type":"point","shape":"M-1,0L1,0M0,-1L0,1M-.72,-.72L.72,.72M-.72,.72L.72,-.72","size":110,"filled":false,"strokeWidth":2,"color":"#0000ff","opacity":1}},
{"data":{"values":[{"it":822,"fit":45350,"s":"GEO"}]},"mark":{"type":"text","align":"left","baseline":"middle","fontSize":14,"color":"#000000"},"encoding":{"text":{"field":"s"}}}
]}
],"spacing":0,"bounds":"flush"}
],
"spacing":70,
"bounds":"flush",
"resolve":{"scale":{"color":"independent"}}
}
